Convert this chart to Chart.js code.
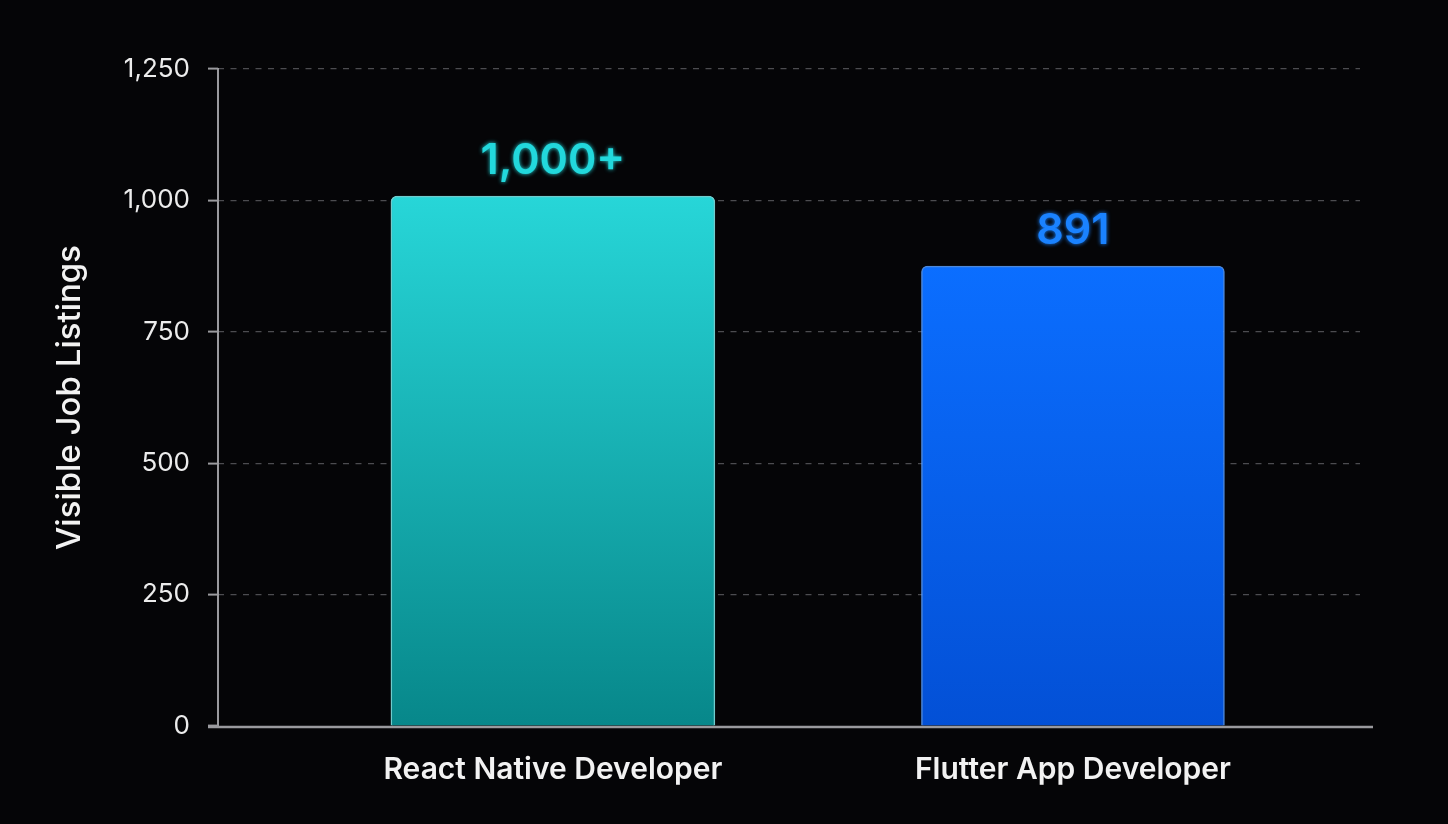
<!DOCTYPE html>
<html lang="en">
<head>
  <meta charset="UTF-8">
  <title>Visible Job Listings</title>
  <script src="https://cdn.jsdelivr.net/npm/chart.js"></script>
  <style>
    html, body { margin: 0; padding: 0; background: #050507; }
    #wrap { width: 1448px; height: 824px; }
  </style>
</head>
<body>
  <div id="wrap"><canvas id="grafico"></canvas></div>

  <script>
    // data
    const categories = ['React Native Developer', 'Flutter App Developer'];
    const values = [1008, 875];
    const valueLabels = ['1,000+', '891'];
    const yTicks = [0, 250, 500, 750, 1000, 1250];

    // per-bar look
    const barTop = ['#27d6d8', '#0b6eff'];
    const barBottom = ['#07878a', '#0350d6'];
    const barEdge = ['rgba(130,240,240,0.85)', 'rgba(90,160,255,0.85)'];
    const barWidths = [324, 303];
    const labelColors = ['#22d8dc', '#1a82ff'];

    const FONT = 'Inter, "Noto Sans", sans-serif';
    const AXIS = '#9a9a9e';

    // one dataset per bar so each can have its own width
    const datasets = categories.map((c, i) => ({
      label: c,
      data: [{ x: i + 1, y: values[i] }],
      grouped: false,
      barThickness: barWidths[i],
      borderRadius: 6,
      borderWidth: 1.5,
      borderColor: barEdge[i],
      backgroundColor: function (context) {
        const chart = context.chart;
        const area = chart.chartArea;
        if (!area) return barTop[i];
        const top = chart.scales.y.getPixelForValue(values[i]);
        const g = chart.ctx.createLinearGradient(0, top, 0, area.bottom);
        g.addColorStop(0, barTop[i]);
        g.addColorStop(1, barBottom[i]);
        return g;
      }
    }));

    const valueLabelPlugin = {
      id: 'valueLabels',
      afterDatasetsDraw(chart) {
        const ctx = chart.ctx;
        ctx.save();
        ctx.font = '600 43px ' + FONT;
        ctx.textAlign = 'center';
        ctx.textBaseline = 'alphabetic';
        chart.data.datasets.forEach((ds, i) => {
          const bar = chart.getDatasetMeta(i).data[0];
          ctx.fillStyle = labelColors[i];
          ctx.shadowColor = labelColors[i];
          ctx.shadowBlur = 4;
          ctx.fillText(valueLabels[i], bar.x, bar.y - 22);
        });
        ctx.restore();
      }
    };

    // solid axis lines; the x one runs a bit past the plot on both ends
    const axisLinePlugin = {
      id: 'axisLines',
      afterDatasetsDraw(chart) {
        const a = chart.chartArea;
        const ctx = chart.ctx;
        ctx.save();
        ctx.strokeStyle = AXIS;
        ctx.lineWidth = 2;
        ctx.beginPath();
        ctx.moveTo(a.left, a.top - 1);
        ctx.lineTo(a.left, a.bottom);
        ctx.stroke();
        ctx.lineWidth = 2.5;
        ctx.beginPath();
        ctx.moveTo(a.left - 10, a.bottom + 1);
        ctx.lineTo(a.right + 13, a.bottom + 1);
        ctx.stroke();
        ctx.restore();
      }
    };

    const ctx = document.getElementById('grafico').getContext('2d');
    new Chart(ctx, {
      type: 'bar',
      data: { datasets: datasets },
      plugins: [valueLabelPlugin, axisLinePlugin],
      options: {
        responsive: true,
        maintainAspectRatio: false,
        animation: false,
        layout: { padding: { left: 50, right: 88, top: 69, bottom: 0 } },
        plugins: {
          legend: { display: false },
          tooltip: { enabled: false }
        },
        scales: {
          x: {
            type: 'linear',
            offset: false,
            min: 0.356,
            max: 2.552,
            grid: { display: false, drawTicks: false, offset: false },
            border: { display: false },
            afterBuildTicks: (scale) => { scale.ticks = categories.map((c, i) => ({ value: i + 1 })); },
            afterFit: (scale) => { scale.height = 824 - 726; },
            ticks: {
              autoSkip: false,
              maxRotation: 0,
              padding: 26,
              color: '#f2f2f2',
              font: { family: FONT, size: 30, weight: '600' },
              callback: (v) => categories[v - 1]
            }
          },
          y: {
            min: 0,
            max: 1250,
            afterBuildTicks: (scale) => { scale.ticks = yTicks.map(v => ({ value: v })); },
            afterFit: (scale) => { scale.width = 218 - 50; },
            grid: {
              color: (c) => c.tick && c.tick.value === 0 ? 'rgba(0,0,0,0)' : '#4c4c50',
              lineWidth: 1.2,
              tickLength: 10,
              tickColor: AXIS,
              tickWidth: 2,
              tickBorderDash: []
            },
            border: { display: false, dash: [6, 6.5] },
            ticks: {
              padding: 18,
              color: '#ececec',
              font: { family: FONT, size: 26 },
              callback: (v) => v.toLocaleString('en-US')
            },
            title: {
              display: true,
              text: 'Visible Job Listings',
              color: '#f2f2f2',
              font: { family: FONT, size: 33, weight: '500' },
              padding: { top: 0, bottom: 0 }
            }
          }
        }
      }
    });
  </script>
</body>
</html>
